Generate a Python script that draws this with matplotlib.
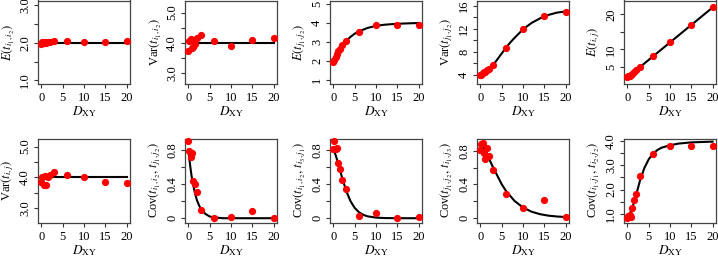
import numpy as np
import matplotlib
matplotlib.use("Agg")
import matplotlib.pyplot as plt

plt.rcParams["font.family"] = ["Liberation Serif", "DejaVu Serif"]
plt.rcParams["mathtext.fontset"] = "stix"

# simulation distances
d_xy = [0, 0.25, 0.5, 0.75, 1, 1.5, 2, 3, 6, 10, 15, 20]

# simulated values, one list per panel
e_i1i2 = [1.98, 2.03, 2.0, 2.01, 2.0, 2.02, 2.03, 2.05, 2.05, 2.02, 2.01, 2.05]
var_i1i2 = [3.74, 4.07, 4.12, 3.81, 3.87, 3.96, 4.17, 4.25, 4.07, 3.90, 4.10, 4.14]
e_j1j2 = [1.95, 2.07, 2.21, 2.38, 2.52, 2.64, 2.82, 3.05, 3.52, 3.87, 3.90, 3.88]
var_j1j2 = [4.0, 3.9, 4.3, 4.4, 4.55, 4.8, 5.0, 5.7, 8.6, 11.9, 14.2, 14.9]
e_ij = [2.0, 2.3, 2.5, 2.8, 3.0, 3.5, 4.0, 5.0, 8.0, 12.0, 17.0, 22.0]
var_ij = [3.84, 4.0, 3.77, 4.03, 3.77, 4.0, 4.07, 4.16, 4.07, 4.0, 3.84, 3.81]
cov_a = [0.90, 0.79, 0.72, 0.76, 0.44, 0.40, 0.31, 0.10, 0.0, 0.02, 0.086, 0.0]
cov_b = [0.81, 0.90, 0.81, 0.82, 0.64, 0.58, 0.45, 0.34, 0.027, 0.066, 0.0, 0.02]
cov_c = [0.81, 0.88, 0.90, 0.78, 0.70, 0.84, 0.74, 0.57, 0.28, 0.12, 0.21, 0.01]
cov_d = [0.81, 0.92, 0.97, 0.88, 1.22, 1.59, 1.81, 2.55, 3.45, 3.78, 3.78, 3.78]

# theoretical curves
flat_x = [0, 20]
e_i1i2_fit = [2.0, 2.0]
var_i1i2_fit = [4.0, 4.0]
var_ij_fit = [4.0, 4.0]
e_ij_fit = [2.0, 22.0]

e_j1j2_fx = [0, 0.5, 1, 1.5, 2, 3, 4, 5, 6, 8, 10, 12, 15, 20]
e_j1j2_fit = [2.0, 2.24, 2.44, 2.63, 2.79, 3.06, 3.26, 3.43, 3.55, 3.73, 3.84, 3.9, 3.95, 3.99]

var_j1j2_fx = [0, 1, 2, 3, 4, 5, 6, 7, 8, 10, 12, 14, 16, 18, 20]
var_j1j2_fit = [4.0, 4.2, 4.8, 5.7, 6.7, 7.7, 8.7, 9.6, 10.4, 11.9, 13.0, 13.8, 14.4, 14.8, 15.0]

cov_a_fx = [0, 0.25, 0.5, 0.75, 1, 1.5, 2, 2.5, 3, 4, 5, 6, 8, 10, 20]
cov_a_fit = [0.80, 0.68, 0.58, 0.49, 0.42, 0.30, 0.21, 0.15, 0.10, 0.05, 0.02, 0.01, 0.0, 0.0, 0.0]

cov_b_fx = [0, 0.5, 1, 1.5, 2, 2.5, 3, 4, 5, 6, 7, 8, 10, 12, 15, 20]
cov_b_fit = [0.80, 0.74, 0.66, 0.57, 0.48, 0.40, 0.32, 0.20, 0.12, 0.07, 0.04, 0.022, 0.007, 0.002, 0.0, 0.0]

cov_c_fx = [0, 1, 2, 3, 4, 5, 6, 7, 8, 10, 12, 14, 16, 18, 20]
cov_c_fit = [0.90, 0.82, 0.71, 0.60, 0.50, 0.40, 0.32, 0.26, 0.20, 0.12, 0.07, 0.04, 0.022, 0.012, 0.006]

cov_d_fx = [0, 1, 2, 3, 4, 5, 6, 7, 8, 10, 12, 15, 20]
cov_d_fit = [0.85, 1.15, 1.75, 2.4, 2.9, 3.25, 3.48, 3.63, 3.73, 3.83, 3.9, 3.95, 3.98]

panels = [
    # (points, curve x, curve y, ylabel, ylim, yticks, ytick labels)
    (e_i1i2, flat_x, e_i1i2_fit, r"$E(t_{i_1,i_2})$", (0.9, 3.13),
     [1.0, 1.5, 2.0, 2.5, 3.0], ["1.0", "", "2.0", "", "3.0"]),
    (var_i1i2, flat_x, var_i1i2_fit, r"Var$(t_{i_1,i_2})$", (2.63, 5.4),
     [3.0, 3.5, 4.0, 4.5, 5.0], ["3.0", "", "4.0", "", "5.0"]),
    (e_j1j2, e_j1j2_fx, e_j1j2_fit, r"$E(t_{j_1,j_2})$", (0.79, 5.17),
     [1, 2, 3, 4, 5], ["1", "2", "3", "4", "5"]),
    (var_j1j2, var_j1j2_fx, var_j1j2_fit, r"Var$(t_{j_1,j_2})$", (2.4, 16.9),
     [4, 6, 8, 10, 12, 14, 16], ["4", "", "8", "", "12", "", "16"]),
    (e_ij, flat_x, e_ij_fit, r"$E(t_{i,j})$", (0.1, 24.0),
     [5, 10, 15, 20], ["5", "10", "", "20"]),
    (var_ij, flat_x, var_ij_fit, r"Var$(t_{i,j})$", (2.54, 5.26),
     [3.0, 3.5, 4.0, 4.5, 5.0], ["3.0", "", "4.0", "", "5.0"]),
    (cov_a, cov_a_fx, cov_a_fit, r"Cov$(t_{i_1,i_2},\,t_{j_1,j_2})$", (-0.05, 0.93),
     [0, 0.2, 0.4, 0.6, 0.8], ["0", "", "0.4", "", "0.8"]),
    (cov_b, cov_b_fx, cov_b_fit, r"Cov$(t_{i_1,i_2},\,t_{i_3,j_1})$", (-0.05, 0.93),
     [0, 0.2, 0.4, 0.6, 0.8], ["0", "", "0.4", "", "0.8"]),
    (cov_c, cov_c_fx, cov_c_fit, r"Cov$(t_{j_1,j_2},\,t_{i_1,j_3})$", (-0.06, 0.95),
     [0, 0.2, 0.4, 0.6, 0.8], ["0", "", "0.4", "", "0.8"]),
    (cov_d, cov_d_fx, cov_d_fit, r"Cov$(t_{i_1,j_1},\,t_{i_2,j_2})$", (0.64, 4.11),
     [1.0, 1.5, 2.0, 2.5, 3.0, 3.5, 4.0], ["1.0", "", "2.0", "", "3.0", "", "4.0"]),
]

W, H = 718, 257
fig = plt.figure(figsize=(W / 100, H / 100), dpi=100)

lefts = [38, 185, 330, 477, 624]
rows = [(0.5, 84), (138.5, 222.5)]  # top, bottom in pixels
width = 92

for k, (pts, cx, cy, ylab, ylim, yt, ytl) in enumerate(panels):
    r, c = divmod(k, 5)
    top, bot = rows[r]
    ax = fig.add_axes([lefts[c] / W, 1 - bot / H, width / W, (bot - top) / H])
    ax.plot(cx, cy, color="black", lw=1.5, zorder=2)
    ax.plot(d_xy, pts, "o", color="red", ms=4.2, mec="red", zorder=3, clip_on=False)
    ax.set_xlim(-0.8, 20.8)
    ax.set_ylim(*ylim)
    ax.set_xticks([0, 5, 10, 15, 20])
    ax.set_yticks(yt)
    ax.set_yticklabels(ytl)
    ax.tick_params(axis="both", length=3, width=0.8, color="#333333", labelsize=9)
    ax.tick_params(axis="x", pad=3)
    ax.tick_params(axis="y", labelrotation=90, pad=2)
    for lb in ax.get_yticklabels():
        lb.set_va("center")
    for sp in ax.spines.values():
        sp.set_color("#444444")
        sp.set_linewidth(0.9)
    ax.set_xlabel(r"$D_{\mathrm{XY}}$", fontsize=9.5, labelpad=0)
    ax.set_ylabel(ylab, fontsize=9, labelpad=2.5)

fig.savefig("out.png", dpi=100)
